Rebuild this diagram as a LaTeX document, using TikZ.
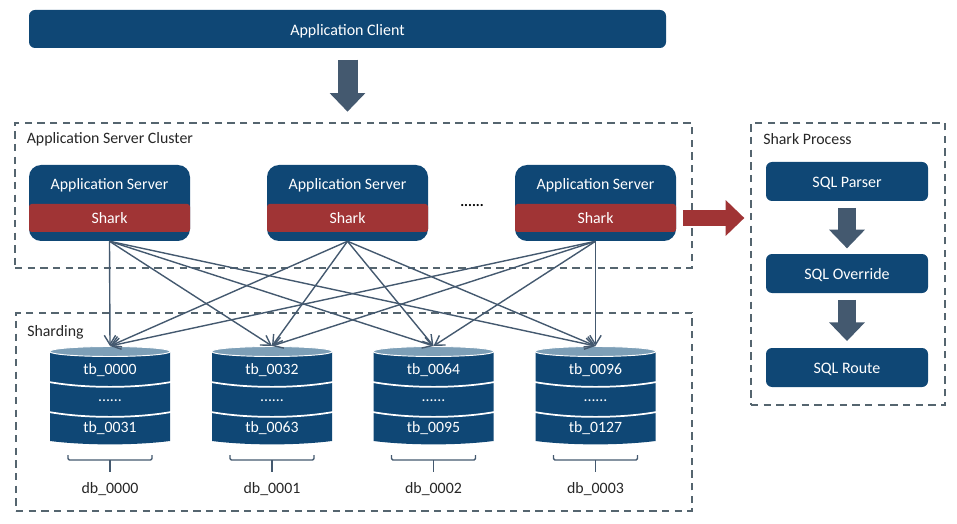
\documentclass[tikz,border=0pt]{standalone}
\usepackage{fontspec}
\setmainfont{Carlito}
\usetikzlibrary{arrows.meta}
\definecolor{navy}{HTML}{0F4775}
\definecolor{sharkred}{HTML}{A03435}
\definecolor{slate}{HTML}{44596F}
\definecolor{dashgrey}{HTML}{55656F}
\definecolor{dbtop}{HTML}{7D9FB7}
\def\u{0.75pt}
\newcommand{\lowered}[1]{\raisebox{-4.6pt}[0pt][0pt]{#1}}
\tikzset{
  x=0.75pt,y=-0.75pt,
  navybox/.style={fill=navy,text=white,inner sep=0pt,font=\fontsize{12pt}{13pt}\selectfont},
  clientbox/.style={navybox,rounded corners=4.5pt,minimum width=637*\u,minimum height=38*\u},
  serverbox/.style={fill=navy,inner sep=0pt,rounded corners=9pt,minimum width=161*\u,minimum height=76*\u},
  sharkband/.style={fill=sharkred,text=white,inner sep=0pt,rounded corners=2pt,minimum width=161*\u,minimum height=28*\u,font=\fontsize{11.9pt}{13pt}\selectfont},
  servertext/.style={text=white,inner sep=0pt,font=\fontsize{11.9pt}{13pt}\selectfont},
  sqlbox/.style={navybox,rounded corners=4.5pt,minimum width=162*\u,minimum height=39*\u},
  region/.style={draw=dashgrey,line width=0.95pt,dash pattern=on 5.5pt off 4pt,inner sep=0pt},
  regiontitle/.style={anchor=west,inner sep=0pt,text=black!85,font=\fontsize{11.9pt}{13pt}\selectfont},
  dbtext/.style={text=white,inner sep=0pt,font=\fontsize{11.8pt}{13pt}\selectfont},
  dblabel/.style={text=black!85,inner sep=0pt,font=\fontsize{11.9pt}{13pt}\selectfont},
  blockarrow/.style={draw=slate,line width=15pt,-{Triangle[width=26pt,length=14pt]}},
  redarrow/.style={draw=sharkred,line width=12.5pt,-{Triangle[width=26pt,length=14pt]}},
  link/.style={draw=slate,line width=1.05pt,-{Straight Barb[length=7pt,width=8.5pt]}},
  bracketline/.style={draw=slate,line width=1pt,rounded corners=1pt},
}
\newcommand{\dbcyl}[5]{% x, name, first, last, db label
  \fill[navy] (#1-60,351) -- (#1-60,441) .. controls (#1-25,445.5) and (#1+25,445.5) .. (#1+60,441) -- (#1+60,351) -- cycle;
  \draw[white,line width=1.3pt] (#1-61,382) .. controls (#1-25,388.5) and (#1+25,388.5) .. (#1+61,382);
  \draw[white,line width=1.3pt] (#1-61,412) .. controls (#1-25,418.5) and (#1+25,418.5) .. (#1+61,412);
  \draw[white,line width=0.7pt,fill=dbtop] (#1,351.5) ellipse [x radius=60.5,y radius=5];
  \node[dbtext] (#2a) at (#1,370.5) {#3};
  \node[dbtext] (#2b) at (#1,401) {......};
  \node[dbtext] (#2c) at (#1,428.5) {#4};
  \node[dblabel] (#2) at (#1,489) {#5};
  \coordinate (#2top) at (#1,346);
  \draw[bracketline] (#1-42,455) -- (#1-42,460) -- (#1+42,460) -- (#1+42,455);
  \draw[bracketline] (#1,460) -- (#1,472);
}
\begin{document}
\begin{tikzpicture}
\useasboundingbox (0,0) rectangle (957,524);
\node[clientbox] (client) at (347.5,29) {\lowered{Application Client}};
\node[region,minimum width=677*\u,minimum height=145*\u] (cluster) at (353.5,195.5) {};
\node[region,minimum width=676*\u,minimum height=198*\u] (sharding) at (354,412) {};
\node[region,minimum width=194*\u,minimum height=282*\u] (process) at (848,264) {};
\node[regiontitle] (clustertitle) at (26.5,139) {Application Server Cluster};
\node[regiontitle] (shardingtitle) at (27,332.5) {Sharding};
\node[regiontitle] (processtitle) at (763,139) {Shark Process};

\foreach \n/\cx in {s1/109.5,s2/347.5,s3/595.5}{
  \node[serverbox] (\n) at (\cx,203) {};
  \node[sharkband] (\n band) at (\cx,218) {Shark};
  \node[servertext] (\n text) at (\cx,185) {Application Server};
}
\node[text=black,inner sep=0pt,font=\fontsize{11pt}{13pt}\bfseries\selectfont] (dots) at (472,206) {......};

\dbcyl{110}{d0}{tb\_0000}{tb\_0031}{db\_0000}
\dbcyl{272}{d1}{tb\_0032}{tb\_0063}{db\_0001}
\dbcyl{433.5}{d2}{tb\_0064}{tb\_0095}{db\_0002}
\dbcyl{595.5}{d3}{tb\_0096}{tb\_0127}{db\_0003}

\foreach \s in {s1,s2,s3}{
  \foreach \d in {d0,d1,d2,d3}{
    \draw[link] (\s.south) -- (\d top);
  }
}

\node[sqlbox] (parser) at (847,181.5) {\lowered{SQL Parser}};
\node[sqlbox] (override) at (847,273.5) {\lowered{SQL Override}};
\node[sqlbox] (route) at (847,367.5) {\lowered{SQL Route}};

\draw[blockarrow,shorten <=8.5pt,shorten >=8pt] (client.south) -- (client.south|-cluster.north);
\draw[blockarrow,line width=13pt,shorten <=5pt,shorten >=4pt] (parser.south) -- (override.north);
\draw[blockarrow,line width=13pt,shorten <=5pt,shorten >=5pt] (override.south) -- (route.north);
\draw[redarrow,shorten <=5pt,shorten >=4.5pt] (s3band.east) -- (s3band.east-|process.west);
\end{tikzpicture}
\end{document}
